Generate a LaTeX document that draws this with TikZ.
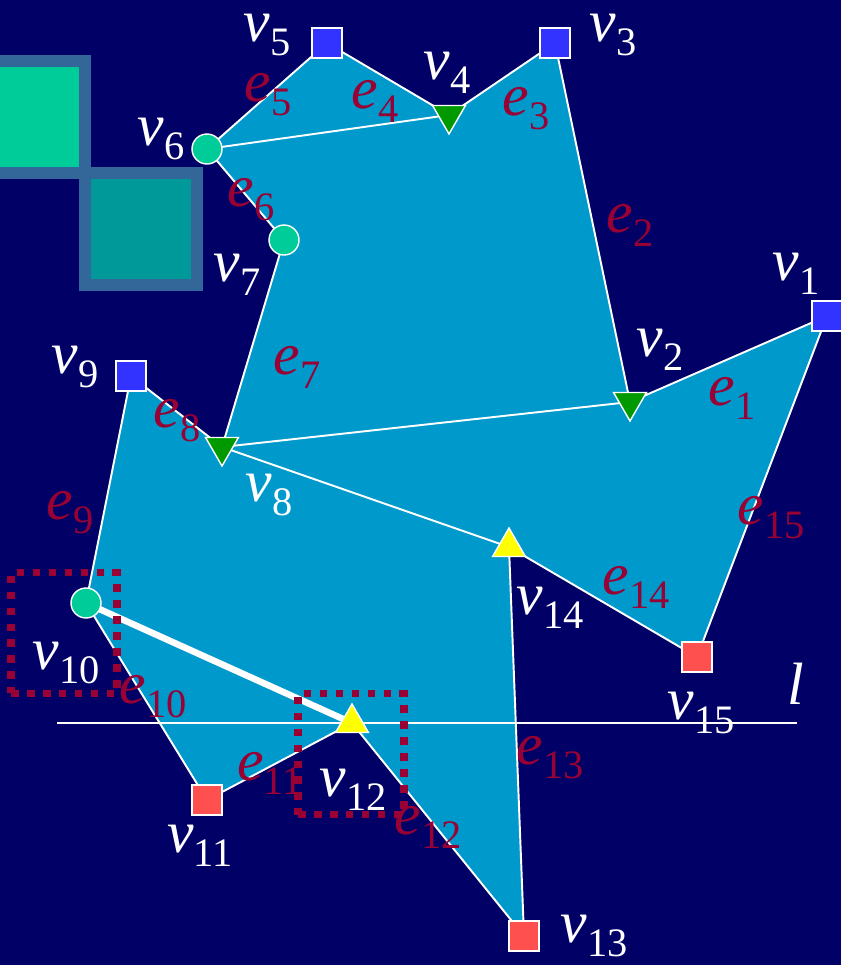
\documentclass[tikz,border=0pt]{standalone}
\usepackage{fontspec}
\setmainfont{Liberation Serif}
\usepackage{tikz}
\usetikzlibrary{shapes.geometric}
\definecolor{bgnavy}{HTML}{000066}
\definecolor{polyfill}{HTML}{0099CC}
\definecolor{sqblue}{HTML}{3333FF}
\definecolor{sqred}{HTML}{FF5050}
\definecolor{trigreen}{HTML}{009900}
\definecolor{triyellow}{HTML}{FFFF00}
\definecolor{circgreen}{HTML}{00CC99}
\definecolor{edgered}{HTML}{990033}
\definecolor{decoborder}{HTML}{336699}
\definecolor{decoteal}{HTML}{009999}
\newcommand{\idx}[2]{\textit{#1}\raisebox{-8pt}{\fontsize{23}{23}\selectfont #2}}

\begin{document}
\begin{tikzpicture}[x=0.02cm,y=-0.02cm,
  sq/.style={draw=white, line width=0.8pt, minimum size=0.6cm, inner sep=0pt},
  circ/.style={circle, draw=white, line width=0.8pt, fill=circgreen, minimum size=0.6cm, inner sep=0pt},
  tdown/.style={regular polygon, regular polygon sides=3, shape border rotate=180, draw=white, line width=0.8pt, fill=trigreen, minimum size=0.76cm, inner sep=0pt},
  tup/.style={regular polygon, regular polygon sides=3, draw=white, line width=0.8pt, fill=triyellow, minimum size=0.76cm, inner sep=0pt},
  vlab/.style={text=white, font=\fontsize{34}{40}\selectfont, inner sep=0pt},
  elab/.style={text=edgered, font=\fontsize{34}{40}\selectfont, inner sep=0pt},
  side/.style={draw=white, line width=1.1pt},
  selbox/.style={draw=edgered, line width=0.15cm, dash pattern=on 0.15cm off 0.17cm, minimum width=2.12cm, minimum height=2.42cm, inner sep=0pt},
  deco/.style={draw=decoborder, line width=0.24cm, minimum size=2.24cm, inner sep=0pt}]
\useasboundingbox (0,0) rectangle (841,965);
\clip (0,0) rectangle (841,965);
\fill[bgnavy] (0,0) rectangle (841,965);
\node[deco, fill=circgreen] (d1) at (29,117) {};
\node[deco, fill=decoteal] (d2) at (141,229) {};
% polygon corners
\coordinate (p1) at (827,316);  \coordinate (p2) at (630,402);
\coordinate (p3) at (555,43);   \coordinate (p4) at (449,115);
\coordinate (p5) at (327,43);   \coordinate (p6) at (207,149);
\coordinate (p7) at (284,240);  \coordinate (p8) at (222,447);
\coordinate (p9) at (131,376);  \coordinate (p10) at (86,603);
\coordinate (p11) at (207,800); \coordinate (p12) at (352,723);
\coordinate (p13) at (524,936); \coordinate (p14) at (509,547);
\coordinate (p15) at (697,657);
\fill[polyfill] (p1) -- (p2) -- (p3) -- (p4) -- (p5) -- (p6) -- (p7) -- (p8) -- (p9) -- (p10)
  -- (p11) -- (p12) -- (p13) -- (p14) -- (p15) -- cycle;
\draw[side] (p1) -- (p2) -- (p3) -- (p4) -- (p5) -- (p6) -- (p7) -- (p8) -- (p9) -- (p10)
  -- (p11) -- (p12) -- (p13) -- (p14) -- (p15) -- cycle;
\draw[side] (p6) -- (p4); \draw[side] (p8) -- (p2); \draw[side] (p8) -- (p14);
\coordinate (lA) at (57,723); \coordinate (lB) at (797,723);
\draw[side] (lA) -- (lB);
\draw[white, line width=0.13cm] (p10) -- (p12);
\node[selbox] (s10) at (64,633) {};
\node[selbox] (s12) at (351,754) {};
% markers
\node[sq, fill=sqblue] (v1) at (p1) {};
\node[tdown] (v2) at (p2) {};
\node[sq, fill=sqblue] (v3) at (p3) {};
\node[tdown] (v4) at (p4) {};
\node[sq, fill=sqblue] (v5) at (p5) {};
\node[circ] (v6) at (p6) {};
\node[circ] (v7) at (p7) {};
\node[tdown] (v8) at (p8) {};
\node[sq, fill=sqblue] (v9) at (p9) {};
\node[circ] (v10) at (p10) {};
\node[sq, fill=sqred] (v11) at (p11) {};
\node[tup] (v12) at (p12) {};
\node[sq, fill=sqred] (v13) at (p13) {};
\node[tup] (v14) at (p14) {};
\node[sq, fill=sqred] (v15) at (p15) {};
% vertex names
\node[vlab] (n1) at (796,274) {\idx{v}{1}};
\node[vlab] (n2) at (660,350) {\idx{v}{2}};
\node[vlab] (n3) at (613,35) {\idx{v}{3}};
\node[vlab] (n4) at (447,73) {\idx{v}{4}};
\node[vlab] (n5) at (267,35) {\idx{v}{5}};
\node[vlab] (n6) at (161,139) {\idx{v}{6}};
\node[vlab] (n7) at (237,275) {\idx{v}{7}};
\node[vlab] (n8) at (269,495) {\idx{v}{8}};
\node[vlab] (n9) at (75,367) {\idx{v}{9}};
\node[vlab] (n10) at (66,663) {\idx{v}{10}};
\node[vlab] (n11) at (200,846) {\idx{v}{11}};
\node[vlab] (n12) at (353,790) {\idx{v}{12}};
\node[vlab] (n13) at (594,936) {\idx{v}{13}};
\node[vlab] (n14) at (550,608) {\idx{v}{14}};
\node[vlab] (n15) at (701,713) {\idx{v}{15}};
\node[vlab] (nl) at (796,684) {\textit{l}};
% edge names
\node[elab] (e1) at (732,398) {\idx{e}{1}};
\node[elab] (e2) at (630,225) {\idx{e}{2}};
\node[elab] (e3) at (526,109) {\idx{e}{3}};
\node[elab] (e4) at (375,101) {\idx{e}{4}};
\node[elab] (e5) at (268,95) {\idx{e}{5}};
\node[elab] (e6) at (251,200) {\idx{e}{6}};
\node[elab] (e7) at (297,367) {\idx{e}{7}};
\node[elab] (e8) at (177,421) {\idx{e}{8}};
\node[elab] (e9) at (70,513) {\idx{e}{9}};
\node[elab] (e10) at (153,697) {\idx{e}{10}};
\node[elab] (e11) at (270,773) {\idx{e}{11}};
\node[elab] (e12) at (428,827) {\idx{e}{12}};
\node[elab] (e13) at (550,758) {\idx{e}{13}};
\node[elab] (e14) at (636,587) {\idx{e}{14}};
\node[elab] (e15) at (771,518) {\idx{e}{15}};
\end{tikzpicture}
\end{document}
